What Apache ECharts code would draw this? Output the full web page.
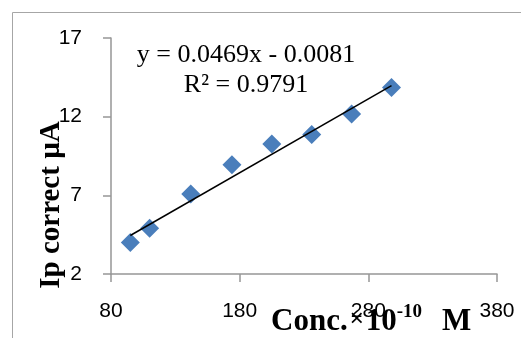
<!DOCTYPE html>
<html style="height: 100%">
<head>
    <meta charset="UTF-8">
    <title>Ip vs Conc.</title>
    <script src="https://cdn.jsdelivr.net/npm/echarts/dist/echarts.min.js"></script>
</head>
<body style="height: 100%; margin: 0">
    <div id="main" style="width: 521px; height: 338px;"></div>
    <script>
        // data
        var concValues = [95, 110, 142, 174, 205, 236, 267, 298];
        var ipValues = [4.0, 4.9, 7.08, 8.95, 10.26, 10.86, 12.17, 13.85];
        var xTicks = [80, 180, 280, 380];
        var yTicks = [2, 7, 12, 17];
        // trendline from the printed equation
        var slope = 0.0469;
        var intercept = -0.0081;
        var equationLines = ['y = 0.0469x - 0.0081', 'R² = 0.9791'];

        var points = concValues.map(function (x, i) { return [x, ipValues[i]]; });
        var xMinData = Math.min.apply(null, concValues);
        var xMaxData = Math.max.apply(null, concValues);
        var trend = [
            [xMinData, slope * xMinData + intercept],
            [xMaxData, slope * xMaxData + intercept]
        ];

        var myChart = echarts.init(document.getElementById('main'));

        var axisColor = '#969696';
        var option = {
            animation: false,
            backgroundColor: '#ffffff',
            grid: { left: 111, top: 38, right: 24, bottom: 64 },
            xAxis: {
                type: 'value',
                min: xTicks[0],
                max: xTicks[xTicks.length - 1],
                interval: 100,
                splitLine: { show: false },
                axisLine: { lineStyle: { color: axisColor, width: 1.5 } },
                axisTick: { show: true, length: 8, lineStyle: { color: axisColor, width: 1.5 } },
                axisLabel: { margin: 27, color: '#000', fontFamily: 'Liberation Sans', fontSize: 21 }
            },
            yAxis: {
                type: 'value',
                min: yTicks[0],
                max: yTicks[yTicks.length - 1],
                interval: 5,
                splitLine: { show: false },
                axisLine: { show: true, lineStyle: { color: axisColor, width: 1.5 } },
                axisTick: { show: true, length: 8, lineStyle: { color: axisColor, width: 1.5 } },
                axisLabel: { margin: 29, color: '#000', fontFamily: 'Liberation Sans', fontSize: 21 }
            },
            series: [
                {
                    type: 'line',
                    data: trend,
                    symbol: 'none',
                    lineStyle: { color: '#000', width: 1.5 },
                    z: 3
                },
                {
                    type: 'scatter',
                    data: points,
                    symbol: 'diamond',
                    symbolSize: [19, 19],
                    itemStyle: { color: '#4a7ebb', opacity: 1 },
                    z: 2
                }
            ],
            graphic: [
                {
                    type: 'rect',
                    shape: { x: 12.5, y: 12.5, width: 530, height: 340 },
                    style: { fill: 'none', stroke: '#a6a6a6', lineWidth: 1 },
                    silent: true
                },
                {
                    type: 'text',
                    style: {
                        text: equationLines[0],
                        x: 246, y: 55,
                        align: 'center', verticalAlign: 'middle',
                        font: '26px "Liberation Serif"', fill: '#000'
                    }
                },
                {
                    type: 'text',
                    style: {
                        text: equationLines[1],
                        x: 246, y: 85,
                        align: 'center', verticalAlign: 'middle',
                        font: '26px "Liberation Serif"', fill: '#000'
                    }
                },
                {
                    // y axis title
                    type: 'text',
                    x: 52, y: 205,
                    rotation: Math.PI / 2,
                    style: {
                        text: 'Ip correct µA',
                        x: 0, y: 0,
                        align: 'center', verticalAlign: 'middle',
                        font: 'bold 29px "Liberation Serif"', fill: '#000'
                    }
                },
                {
                    // x axis title
                    type: 'text',
                    x: 271, y: 322,
                    style: {
                        text: '{b|Conc.}{m|×}{b|10}{s|-10}{g|M}',
                        x: 0, y: 0,
                        align: 'left', verticalAlign: 'middle',
                        rich: {
                            b: { fontFamily: 'Liberation Serif', fontWeight: 'bold', fontSize: 31, color: '#000' },
                            g: { fontFamily: 'Liberation Serif', fontWeight: 'bold', fontSize: 31, color: '#000', padding: [0, 0, 0, 20] },
                            m: { fontFamily: 'Liberation Sans', fontSize: 24, color: '#000', padding: [0, 2, 6, 2] },
                            s: { fontFamily: 'Liberation Serif', fontWeight: 'bold', fontSize: 19, color: '#000', padding: [0, 0, 20, 0] }
                        }
                    }
                }
            ]
        };

        myChart.setOption(option);
    </script>
</body>
</html>
